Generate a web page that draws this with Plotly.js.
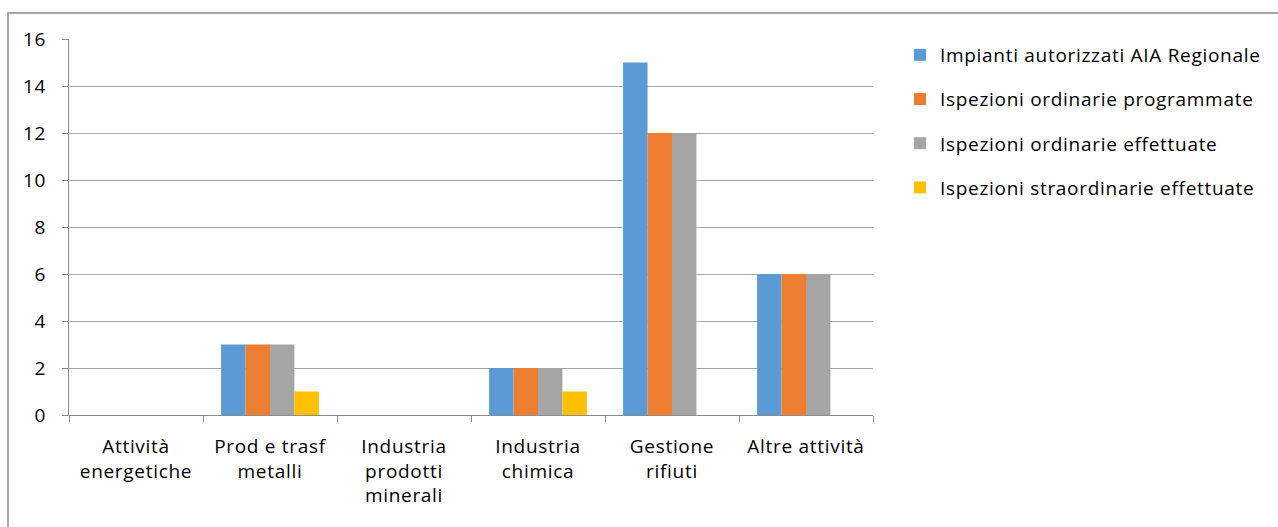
<!DOCTYPE html>
<html>
<head>
<meta charset="utf-8">
<script src="https://cdn.plot.ly/plotly-3.0.1.min.js"></script>
<style>
  html, body { margin: 0; padding: 0; background: #fff; }
  #chart { width: 1278px; height: 527px; }
  svg text { letter-spacing: 0.7px; }
</style>
</head>
<body>
<div id="chart"></div>
<script>
const categories = [
  "Attività<br>energetiche",
  "Prod e trasf<br>metalli",
  "Industria<br>prodotti<br>minerali",
  "Industria<br>chimica",
  "Gestione<br>rifiuti",
  "Altre attività"
];
const seriesNames = [
  "Impianti autorizzati AIA Regionale",
  "Ispezioni ordinarie programmate",
  "Ispezioni ordinarie effettuate",
  "Ispezioni straordinarie effettuate"
];
const impianti = [0, 3, 0, 2, 15, 6];
const programmate = [0, 3, 0, 2, 12, 6];
const effettuate = [0, 3, 0, 2, 12, 6];
const straordinarie = [0, 1, 0, 1, 0, 0];
const colors = ["#5B9BD5", "#ED7D31", "#A5A5A5", "#FFC000"];
const seriesValues = [impianti, programmate, effettuate, straordinarie];
const yTicks = [0, 2, 4, 6, 8, 10, 12, 14, 16];

const FONT = "Open Sans, Noto Sans, sans-serif";
const FS = 19;

const traces = seriesValues.map((vals, i) => ({
  type: "bar",
  name: seriesNames[i],
  x: categories,
  y: vals,
  legendgroup: "g" + i,
  marker: { color: colors[i], line: { width: 0 } },
  hoverinfo: "x+y+name"
}));

const plotW = 804, plotH = 376;
const layout = {
  width: 1278,
  height: 527,
  margin: { l: 69, r: 405, t: 39, b: 112 },
  paper_bgcolor: "#ffffff",
  plot_bgcolor: "#ffffff",
  font: { family: FONT, size: FS, color: "#000000" },
  barmode: "group",
  bargap: 0.27,
  bargroupgap: 0,
  xaxis: {
    type: "category",
    tickson: "boundaries",
    ticks: "outside",
    ticklen: 6,
    tickcolor: "#8C8C8C",
    showline: true,
    linecolor: "#8C8C8C",
    linewidth: 1,
    showgrid: false,
    tickfont: { family: FONT, size: FS, color: "#000" },
    ticklabelstandoff: 14,
    fixedrange: true
  },
  yaxis: {
    range: [0, 16],
    tickvals: yTicks,
    ticktext: yTicks.map(String),
    ticks: "outside",
    ticklen: 6,
    tickcolor: "#8C8C8C",
    showline: true,
    linecolor: "#8C8C8C",
    linewidth: 1,
    showgrid: true,
    gridcolor: "#A6A6A6",
    gridwidth: 1,
    zeroline: false,
    tickfont: { family: FONT, size: FS, color: "#000" },
    ticklabelstandoff: 12,
    fixedrange: true
  },
  showlegend: true,
  legend: {
    x: (900 - 69) / plotW,
    xanchor: "left",
    y: 1.0 + 3 / plotH,
    yanchor: "top",
    traceorder: "grouped",
    tracegroupgap: 16.5,
    font: { family: FONT, size: FS, color: "#000" },
    itemwidth: 30,
    bgcolor: "rgba(0,0,0,0)"
  },
  shapes: [{
    type: "rect",
    xref: "paper", yref: "paper",
    x0: (8 - 69) / plotW,
    x1: (1300 - 69) / plotW,
    y0: (415 - 560) / plotH,
    y1: (415 - 13) / plotH,
    line: { color: "#8C8C8C", width: 1.5 },
    fillcolor: "rgba(0,0,0,0)",
    layer: "below"
  }]
};

Plotly.newPlot("chart", traces, layout, { displayModeBar: false, staticPlot: true });
</script>
</body>
</html>
